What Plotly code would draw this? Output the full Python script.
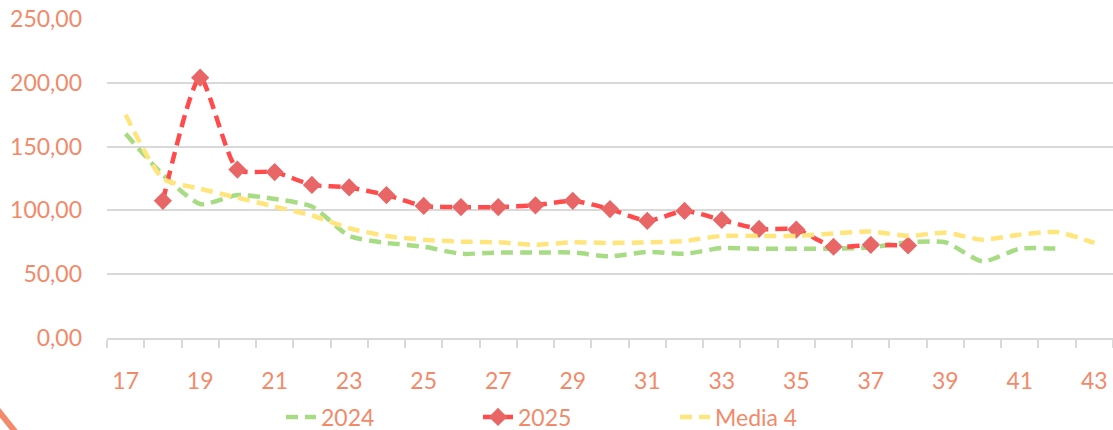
import plotly.graph_objects as go

weeks = list(range(17, 44))

s2024_x = list(range(17, 43))
s2024 = [160, 128, 105, 112, 109, 103, 80, 74.5, 71.5, 66, 67, 67, 67, 64, 67.5, 66, 70.5, 70,
         70, 70, 71, 75, 75, 60, 70, 70]

s2025_x = list(range(18, 39))
s2025 = [107.5, 204, 132, 130, 120, 118, 112, 103.5, 102.6, 102.6, 104, 107.5, 101, 91.8, 99.6,
         92.5, 85.5, 85, 71.5, 73, 72.5]

media_x = list(range(17, 44))
media = [175, 125, 117, 110, 103, 96, 86, 80, 77, 75.5, 75, 73, 75, 74.5, 75, 76, 80, 80,
         80, 82, 83.5, 80, 82.5, 77, 81, 83, 74.5]

xticks = list(range(17, 44, 2))
yticks = [0, 50, 100, 150, 200, 250]

TXT = "#F28A6A"
FONT = "Lato"

fig = go.Figure()
fig.add_trace(go.Scatter(
    x=s2024_x, y=s2024, name="2024", mode="lines",
    line=dict(color="#A8DC84", width=4.5, dash="12px,7px", shape="spline", smoothing=0.6),
))
fig.add_trace(go.Scatter(
    x=s2025_x, y=s2025, name="2025", mode="lines+markers",
    line=dict(color="#FF4B4B", width=4.5, dash="12px,7px", shape="spline", smoothing=0.6),
    marker=dict(symbol="diamond", size=14, color="#E96666"),
))
fig.add_trace(go.Scatter(
    x=media_x, y=media, name="Media 4", mode="lines",
    line=dict(color="#FFE57C", width=4.5, dash="12px,7px", shape="spline", smoothing=0.6),
))

L, R, T, B = 107, 1113, 19, 338
W, H = 1113, 430

def px(x):
    return (x - L) / (R - L)

def py(y):
    return (B - y) / (B - T)

fig.add_shape(type="line", xref="paper", yref="paper",
              x0=px(-3), y0=py(409), x1=px(17), y1=py(434),
              line=dict(color="#F4896B", width=6))

fig.update_layout(
    width=W, height=H,
    margin=dict(l=L, r=W - R, t=T, b=H - B, autoexpand=False),
    paper_bgcolor="white", plot_bgcolor="white",
    separators=",.",
    font=dict(family=FONT, color=TXT, size=23),
    showlegend=True,
    legend=dict(orientation="h", xref="container", yref="container",
                x=281 / W, xanchor="left", y=1 - 417 / H, yanchor="middle",
                font=dict(size=23, color=TXT, family=FONT),
                entrywidth=152, entrywidthmode="pixels",
                bgcolor="rgba(0,0,0,0)"),
    xaxis=dict(
        range=[16.5, 43.5], tickmode="array", tickvals=xticks,
        ticktext=[str(v) for v in xticks], automargin=False,
        showgrid=False, zeroline=False, showline=True, linecolor="#D9D9D9", linewidth=1.5,
        ticks="", ticklabelstandoff=22,
        tickfont=dict(size=23, color=TXT, family=FONT),
        minor=dict(tickmode="linear", tick0=16.5, dtick=1, ticks="outside", ticklen=8,
                   tickcolor="#D9D9D9", tickwidth=1.5, showgrid=False),
    ),
    yaxis=dict(
        range=[0, 250], tickmode="array", tickvals=yticks, tickformat=".2f",
        showgrid=True, gridcolor="#D9D9D9", gridwidth=1.5, automargin=False,
        zeroline=False, showline=False, ticks="", ticklabelstandoff=24,
        tickfont=dict(size=23, color=TXT, family=FONT),
    ),
)

fig.write_html("out.html", config={"displayModeBar": False},
               post_script="document.body.style.margin='0';document.body.style.overflow='hidden';")
